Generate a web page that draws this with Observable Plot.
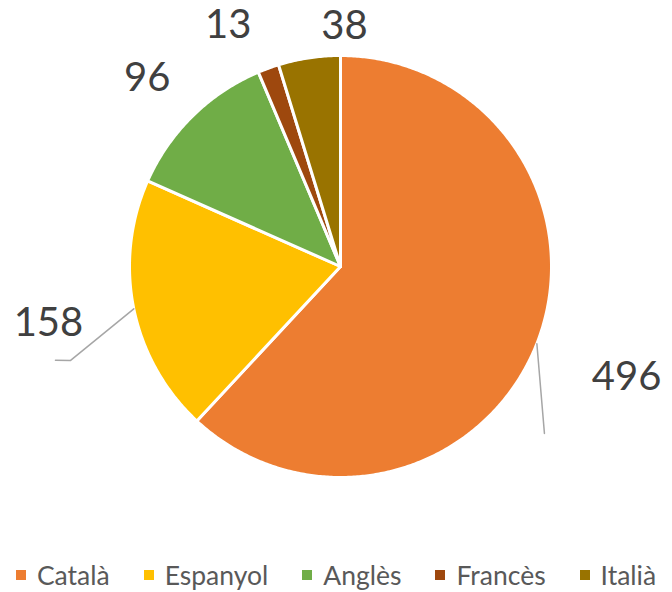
<!DOCTYPE html>
<html><head><meta charset="utf-8">
<script src="https://cdn.jsdelivr.net/npm/d3@7"></script>
<script src="https://cdn.jsdelivr.net/npm/@observablehq/plot@0.6"></script>
<style>
body{margin:0;background:#fff;font-family:Lato,"Open Sans",sans-serif;overflow:hidden;}
#chart svg{display:block;}
#legend{display:flex;justify-content:center;align-items:center;height:30px;line-height:30px;font-size:26.5px;color:#595959;gap:34px;}
#legend .item{display:flex;align-items:center;}
#legend .sw{width:10px;height:10px;margin-right:11px;}
</style></head><body>
<div id="chart"></div>
<div id="legend"></div>
<script>
const categories = ["Català","Espanyol","Anglès","Francès","Italià"];
const values = [496,158,96,13,38];
const colors = ["#ED7D31","#FFC000","#70AD47","#9E480E","#997300"];

const data = categories.map((c,i)=>({category:c, value:values[i]}));
const arcs = d3.pie().sort(null).value(d=>d.value)(data);

// slice polygons (unit circle, clockwise from 12 o'clock)
const slicePts = [];
arcs.forEach(a=>{
  const c = a.data.category;
  slicePts.push({category:c,x:0,y:0});
  const n = Math.max(2, Math.ceil((a.endAngle-a.startAngle)/(Math.PI/360)));
  for(let k=0;k<=n;k++){
    const t = a.startAngle + (a.endAngle-a.startAngle)*k/n;
    slicePts.push({category:c,x:Math.sin(t),y:Math.cos(t)});
  }
  slicePts.push({category:c,x:0,y:0});
});

// label placement (polar relative to slice mid-angle) and optional leader
const place = {
  "Català":  {r:1.454, da:-0.3, leader:[[1.249,129.3]]},
  "Espanyol":{r:1.41, da:0.6, leader:[[1.356,250.8],[1.422,251.8]]},
  "Anglès":  {r:1.28, da:-1.2},
  "Francès": {r:1.26, da:-5},
  "Italià":  {r:1.14, da:9.5}
};
const rad = d=>d*Math.PI/180;
const labels = [], leaders = [];
arcs.forEach(a=>{
  const c = a.data.category, p = place[c];
  const mid = (a.startAngle+a.endAngle)/2;
  const t = mid + rad(p.da);
  labels.push({category:c, value:a.data.value, x:p.r*Math.sin(t), y:p.r*Math.cos(t)});
  if(p.leader){
    leaders.push({category:c,x:Math.sin(mid),y:Math.cos(mid)});
    p.leader.forEach(([r,ang])=>leaders.push({category:c,x:r*Math.sin(rad(ang)),y:r*Math.cos(rad(ang))}));
  }
});

const cx=340, cy=266, R=211;
const chart = Plot.plot({
  width:672, height:560,
  margin:0,
  x:{domain:[-1,1], range:[cx-R,cx+R], axis:null},
  y:{domain:[-1,1], range:[cy+R,cy-R], axis:null},
  color:{domain:categories, range:colors},
  style:{fontFamily:"Lato, 'Open Sans', sans-serif", background:"#fff"},
  marks:[
    Plot.line(slicePts,{x:"x",y:"y",z:"category",fill:"category",stroke:"#fff",strokeWidth:3,strokeLinejoin:"round",curve:"linear"}),
    Plot.line(leaders,{x:"x",y:"y",z:"category",stroke:"#a6a6a6",strokeWidth:1.5}),
    Plot.text(labels,{x:"x",y:"y",text:d=>String(d.value),fontSize:40,fill:"#404040",textAnchor:"middle",lineAnchor:"middle"})
  ]
});
document.getElementById("chart").appendChild(chart);

const lg = d3.select("#legend");
categories.forEach((c,i)=>{
  const it = lg.append("div").attr("class","item");
  it.append("div").attr("class","sw").style("background",colors[i]);
  it.append("span").text(c);
});
</script>
</body></html>
